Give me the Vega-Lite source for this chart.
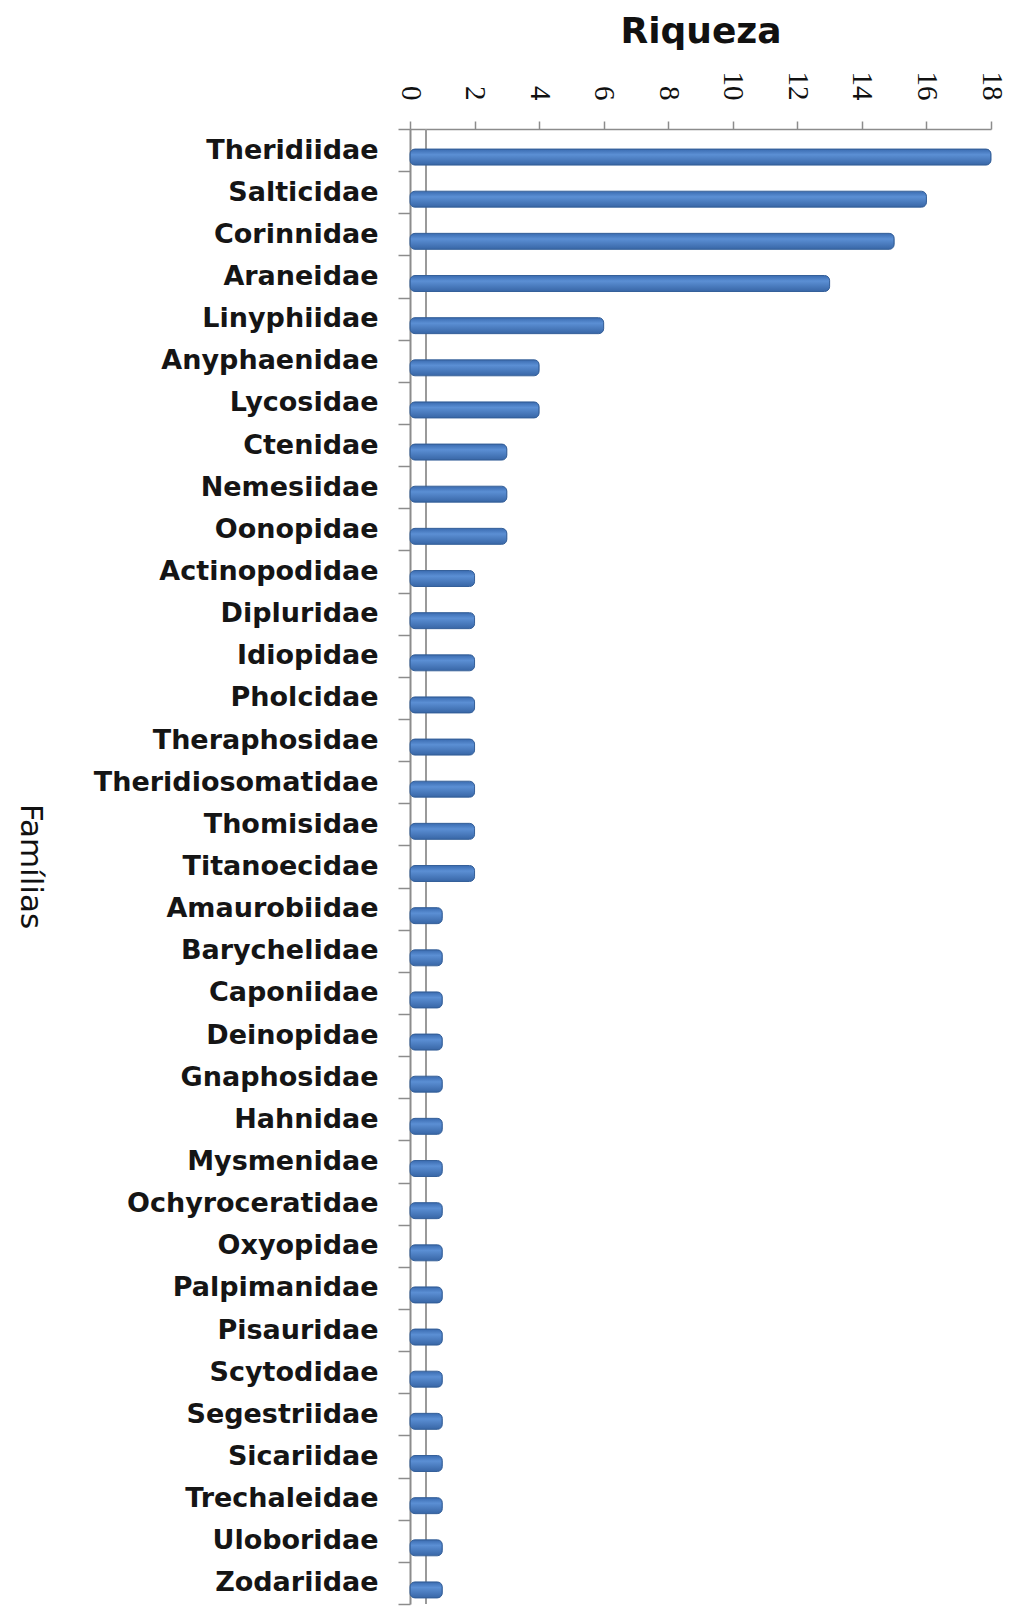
{
  "$schema": "https://vega.github.io/schema/vega-lite/v6.json",
  "width": 581,
  "height": 1475,
  "autosize": {"type": "none"},
  "padding": {"left": 410, "top": 129, "right": 18, "bottom": 10},
  "background": "white",
  "config": {"view": {"stroke": null}},
  "data": {
    "values": [
      {"familia": "Theridiidae", "riqueza": 18},
      {"familia": "Salticidae", "riqueza": 16},
      {"familia": "Corinnidae", "riqueza": 15},
      {"familia": "Araneidae", "riqueza": 13},
      {"familia": "Linyphiidae", "riqueza": 6},
      {"familia": "Anyphaenidae", "riqueza": 4},
      {"familia": "Lycosidae", "riqueza": 4},
      {"familia": "Ctenidae", "riqueza": 3},
      {"familia": "Nemesiidae", "riqueza": 3},
      {"familia": "Oonopidae", "riqueza": 3},
      {"familia": "Actinopodidae", "riqueza": 2},
      {"familia": "Dipluridae", "riqueza": 2},
      {"familia": "Idiopidae", "riqueza": 2},
      {"familia": "Pholcidae", "riqueza": 2},
      {"familia": "Theraphosidae", "riqueza": 2},
      {"familia": "Theridiosomatidae", "riqueza": 2},
      {"familia": "Thomisidae", "riqueza": 2},
      {"familia": "Titanoecidae", "riqueza": 2},
      {"familia": "Amaurobiidae", "riqueza": 1},
      {"familia": "Barychelidae", "riqueza": 1},
      {"familia": "Caponiidae", "riqueza": 1},
      {"familia": "Deinopidae", "riqueza": 1},
      {"familia": "Gnaphosidae", "riqueza": 1},
      {"familia": "Hahnidae", "riqueza": 1},
      {"familia": "Mysmenidae", "riqueza": 1},
      {"familia": "Ochyroceratidae", "riqueza": 1},
      {"familia": "Oxyopidae", "riqueza": 1},
      {"familia": "Palpimanidae", "riqueza": 1},
      {"familia": "Pisauridae", "riqueza": 1},
      {"familia": "Scytodidae", "riqueza": 1},
      {"familia": "Segestriidae", "riqueza": 1},
      {"familia": "Sicariidae", "riqueza": 1},
      {"familia": "Trechaleidae", "riqueza": 1},
      {"familia": "Uloboridae", "riqueza": 1},
      {"familia": "Zodariidae", "riqueza": 1}
    ]
  },
  "layer": [
    {
      "mark": {"type": "rule", "color": "#9a9a9a", "strokeWidth": 1.5, "xOffset": 16},
      "encoding": {"x": {"datum": 0, "type": "quantitative"}}
    },
    {
      "mark": {
        "type": "bar",
        "size": 16,
        "yOffset": 7,
        "cornerRadius": 5,
        "stroke": "#35609a",
        "strokeWidth": 1,
        "color": {
          "gradient": "linear",
          "x1": 0, "y1": 0, "x2": 0, "y2": 1,
          "stops": [
            {"offset": 0, "color": "#3a6bb0"},
            {"offset": 0.35, "color": "#5b8fd4"},
            {"offset": 1, "color": "#3866a6"}
          ]
        }
      },
      "encoding": {
        "y": {
          "field": "familia",
          "type": "nominal",
          "sort": null,
          "scale": {"paddingInner": 0, "paddingOuter": 0},
          "axis": {
            "title": "Famílias",
            "titleFont": "DejaVu Sans",
            "titleFontSize": 31,
            "titleFontWeight": "normal",
            "titleColor": "#111111",
            "titleAngle": 90,
            "titleAlign": "center",
            "titleBaseline": "middle",
            "titleX": -381,
            "titleY": 737,
            "labelFont": "DejaVu Sans",
            "labelFontSize": 27,
            "labelFontWeight": "bold",
            "labelColor": "#151515",
            "labelPadding": 20,
            "labelLimit": 400,
            "tickBand": "extent",
            "tickSize": 12,
            "tickColor": "#8c8c8c",
            "tickWidth": 1.5,
            "domainColor": "#8c8c8c",
            "domainWidth": 2
          }
        },
        "x": {
          "field": "riqueza",
          "type": "quantitative",
          "scale": {"domain": [0, 18]},
          "axis": {
            "orient": "top",
            "title": "Riqueza",
            "titleFont": "DejaVu Sans",
            "titleFontSize": 36,
            "titleFontWeight": "bold",
            "titleColor": "#111111",
            "titleBaseline": "middle",
            "titleY": -98,
            "values": [0, 2, 4, 6, 8, 10, 12, 14, 16, 18],
            "labelFont": "Liberation Serif",
            "labelFontSize": 29,
            "labelColor": "#111111",
            "labelAngle": 90,
            "labelAlign": "right",
            "labelBaseline": "middle",
            "labelPadding": 21,
            "tickSize": 8,
            "tickColor": "#8c8c8c",
            "tickWidth": 1.5,
            "domainColor": "#8c8c8c",
            "domainWidth": 1.5,
            "grid": false
          }
        }
      }
    }
  ]
}
